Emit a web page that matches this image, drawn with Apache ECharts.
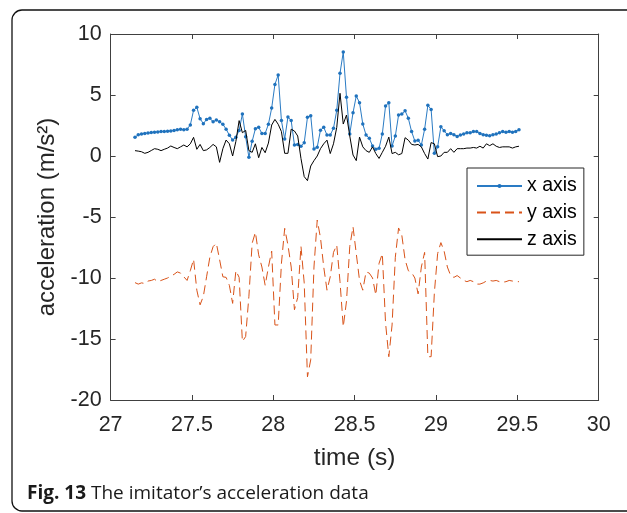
<!DOCTYPE html>
<html>
<head>
<meta charset="utf-8">
<script src="https://cdn.jsdelivr.net/npm/echarts@6/dist/echarts.min.js"></script>
<style>
  html, body { margin: 0; padding: 0; background: #fff; }
  #chart { width: 627px; height: 513px; }
</style>
</head>
<body>
<div id="chart"></div>
<script>
// time samples (s)
const timeS = [
  27.15,27.17,27.19,27.21,27.23,27.25,27.27,27.29,27.31,27.33,
  27.35,27.37,27.39,27.41,27.43,27.45,27.47,27.49,27.51,27.53,
  27.55,27.57,27.59,27.61,27.63,27.65,27.67,27.69,27.71,27.73,
  27.75,27.77,27.79,27.81,27.83,27.85,27.87,27.89,27.91,27.93,
  27.95,27.97,27.99,28.01,28.03,28.05,28.07,28.09,28.11,28.13,
  28.15,28.17,28.19,28.21,28.23,28.25,28.27,28.29,28.31,28.33,
  28.35,28.37,28.39,28.41,28.43,28.45,28.47,28.49,28.51,28.53,
  28.55,28.57,28.59,28.61,28.63,28.65,28.67,28.69,28.71,28.73,
  28.75,28.77,28.79,28.81,28.83,28.85,28.87,28.89,28.91,28.93,
  28.95,28.97,28.99,29.01,29.03,29.05,29.07,29.09,29.11,29.13,
  29.15,29.17,29.19,29.21,29.23,29.25,29.27,29.29,29.31,29.33,
  29.35,29.37,29.39,29.41,29.43,29.45,29.47,29.49,29.51
];
// x axis acceleration (m/s^2)
const xAxisAcc = [
  1.53,1.75,1.8,1.85,1.88,1.92,1.95,1.97,2.0,2.0,
  2.02,2.05,2.1,2.15,2.2,2.15,2.2,2.55,3.74,3.99,
  3.06,2.65,3.0,3.1,2.8,2.95,2.8,2.6,2.2,1.7,
  1.31,1.53,2.1,3.44,1.58,-0.1,1.2,2.24,2.35,1.85,
  1.85,2.6,3.93,5.87,6.64,2.9,1.4,3.2,2.9,0.9,
  0.95,0.8,1.08,3.17,3.3,0.57,0.72,2.12,2.35,1.72,
  1.72,2.27,3.74,6.78,8.52,4.81,1.8,3.55,4.92,4.37,
  2.62,1.72,1.45,0.82,0.55,0.63,1.8,4.1,4.37,0.82,
  1.64,3.36,3.44,3.71,3.09,2.0,1.23,1.3,0.9,2.19,
  4.15,3.82,0.22,0.75,2.4,2.07,1.75,1.85,1.75,1.6,
  1.72,1.8,1.9,1.9,2.0,2.0,1.85,1.75,1.7,1.65,
  1.75,1.8,1.9,2.0,1.95,2.0,1.95,2.0,2.15
];
// y axis acceleration (m/s^2)
const yAxisAcc = [
  -10.38,-10.5,-10.4,-10.45,-10.25,-10.2,-10.1,-10.3,-10.2,-10.1,
  -10.0,-9.85,-9.7,-9.5,-9.6,-9.9,-10.2,-9.4,-8.47,-11.0,
  -12.2,-11.5,-9.9,-8.3,-7.43,-7.15,-8.5,-9.9,-9.95,-10.6,
  -12.08,-9.4,-9.95,-15.2,-14.8,-11.5,-7.15,-6.25,-8.1,-9.1,
  -10.6,-9.1,-7.8,-13.85,-13.85,-8.8,-5.93,-7.3,-9.1,-12.6,
  -11.6,-7.4,-10.4,-18.1,-16.7,-9.1,-5.25,-6.7,-9.1,-11.0,
  -9.9,-7.9,-7.3,-10.3,-14.0,-11.9,-7.4,-5.8,-8.0,-10.2,
  -11.0,-9.5,-9.6,-10.0,-11.4,-8.8,-8.0,-13.7,-16.45,-13.85,
  -8.3,-5.9,-6.5,-8.5,-9.4,-9.55,-10.0,-11.3,-9.1,-7.9,
  -16.45,-16.45,-11.2,-8.0,-7.1,-7.8,-9.1,-9.8,-9.95,-9.8,
  -10.0,-10.2,-10.3,-10.2,-10.3,-10.5,-10.5,-10.4,-10.25,-10.2,
  -10.25,-10.2,-10.3,-10.35,-10.3,-10.2,-10.25,-10.3,-10.3
];
// z axis acceleration (m/s^2)
const zAxisAcc = [
  0.44,0.4,0.35,0.22,0.3,0.45,0.6,0.55,0.44,0.55,
  0.65,0.82,0.7,0.6,0.75,0.9,0.75,1.0,1.53,0.55,
  0.95,0.44,0.5,0.7,0.95,0.75,-0.52,0.6,1.31,1.0,
  0.0,1.2,2.9,1.91,2.1,0.44,0.3,1.0,-0.14,0.7,
  0.27,1.06,2.54,3.0,2.6,2.0,0.22,0.22,2.2,2.05,
  1.64,-0.2,-1.69,-2.02,-0.82,-0.38,0.0,0.6,1.0,1.3,
  0.2,1.0,2.35,5.14,2.62,3.36,1.64,0.08,-0.38,1.55,
  0.75,0.44,0.3,0.75,0.2,-0.2,0.3,0.8,1.55,0.2,
  0.3,0.1,0.2,1.5,1.3,0.95,0.9,0.95,0.75,0.2,
  -0.25,1.1,1.0,-0.05,0.0,0.3,0.3,0.6,0.3,0.6,
  0.6,0.6,0.65,0.65,0.7,0.65,0.8,0.65,1.0,0.85,
  1.0,0.8,0.7,0.75,0.75,0.75,0.65,0.75,0.8
];
const seriesNames = ['x axis', 'y axis', 'z axis'];
const xTicks = { min: 27, max: 30, interval: 0.5 };
const yTicks = { min: -20, max: 10, interval: 5 };

function pairs(vals) { return vals.map((v, i) => [timeS[i], v]); }

const chart = echarts.init(document.getElementById('chart'), null, { renderer: 'canvas' });
const AX = '#404040';
const FONT = '"Liberation Sans", Arial, sans-serif';
const CAPFONT = '"Open Sans", "Noto Sans", sans-serif';
const tickCommon = { show: true, inside: true, length: 5, lineStyle: { color: AX, width: 1 } };

chart.setOption({
  animation: false,
  backgroundColor: '#fff',
  grid: { left: 110.6, right: 28.3, top: 34, bottom: 113, containLabel: false },
  xAxis: [
    {
      type: 'value', min: xTicks.min, max: xTicks.max, interval: xTicks.interval,
      position: 'bottom',
      name: 'time (s)', nameLocation: 'middle', nameGap: 46,
      nameTextStyle: { fontSize: 24.5, fontFamily: FONT, color: '#262626' },
      axisLine: { show: true, onZero: false, lineStyle: { color: AX, width: 1 } },
      axisTick: tickCommon,
      axisLabel: { margin: 14, fontSize: 21.5, fontFamily: FONT, color: '#262626' },
      splitLine: { show: false }
    },
    {
      type: 'value', min: xTicks.min, max: xTicks.max, interval: xTicks.interval,
      position: 'top',
      axisLine: { show: true, onZero: false, lineStyle: { color: AX, width: 1 } },
      axisTick: tickCommon,
      axisLabel: { show: false },
      splitLine: { show: false }
    }
  ],
  yAxis: [
    {
      type: 'value', min: yTicks.min, max: yTicks.max, interval: yTicks.interval,
      position: 'left',
      name: 'acceleration (m/s²)', nameLocation: 'middle', nameGap: 43,
      nameTextStyle: { fontSize: 24, fontFamily: FONT, color: '#262626' },
      axisLine: { show: true, onZero: false, lineStyle: { color: AX, width: 1 } },
      axisTick: tickCommon,
      axisLabel: { margin: 9, fontSize: 21.5, fontFamily: FONT, color: '#262626' },
      splitLine: { show: false }
    },
    {
      type: 'value', min: yTicks.min, max: yTicks.max, interval: yTicks.interval,
      position: 'right',
      axisLine: { show: true, onZero: false, lineStyle: { color: AX, width: 1 } },
      axisTick: tickCommon,
      axisLabel: { show: false },
      splitLine: { show: false }
    }
  ],
  legend: {
    orient: 'vertical', left: 467, top: 168,
    itemWidth: 45, itemHeight: 5, itemGap: 6.6,
    padding: [8, 7, 6, 9],
    borderColor: '#262626', borderWidth: 1, borderRadius: 0,
    backgroundColor: '#fff',
    textStyle: { fontSize: 19.5, lineHeight: 20, fontFamily: FONT, color: '#000' },
    data: [
      { name: seriesNames[0] },
      { name: seriesNames[1], itemStyle: { opacity: 0, color: 'rgba(0,0,0,0)', borderWidth: 0 } },
      { name: seriesNames[2], itemStyle: { opacity: 0, color: 'rgba(0,0,0,0)', borderWidth: 0 } }
    ]
  },
  series: [
    {
      name: seriesNames[0], type: 'line', data: pairs(xAxisAcc),
      xAxisIndex: 0, yAxisIndex: 0,
      symbol: 'circle', symbolSize: 3.5, showSymbol: true,
      itemStyle: { color: '#1f72bd' },
      lineStyle: { color: '#2a7bc4', width: 1 },
      z: 2
    },
    {
      name: seriesNames[1], type: 'line', data: pairs(yAxisAcc),
      xAxisIndex: 0, yAxisIndex: 0,
      symbol: 'none', showSymbol: false,
      itemStyle: { color: '#D95319' },
      lineStyle: { color: '#D95319', width: 1, type: [9, 5] },
      z: 3
    },
    {
      name: seriesNames[2], type: 'line', data: pairs(zAxisAcc),
      xAxisIndex: 0, yAxisIndex: 0,
      symbol: 'none', showSymbol: false,
      itemStyle: { color: '#000' },
      lineStyle: { color: '#000', width: 1 },
      z: 4
    }
  ],
  graphic: [
    {
      type: 'rect', silent: true,
      shape: { x: 12, y: 10, width: 700, height: 501, r: 10 },
      style: { fill: 'none', stroke: '#111', lineWidth: 1.3 }
    },
    {
      type: 'text', silent: true, x: 27, y: 494,
      style: {
        text: '{b|Fig. 13} The imitator’s acceleration data',
        x: 0, y: 0, verticalAlign: 'middle', align: 'left',
        fontSize: 19, fontFamily: CAPFONT, fill: '#1a1a1a',
        rich: {
          b: { fontWeight: 'bold', fontSize: 19, fontFamily: CAPFONT, fill: '#1a1a1a' }
        }
      }
    }
  ]
});
</script>
</body>
</html>
